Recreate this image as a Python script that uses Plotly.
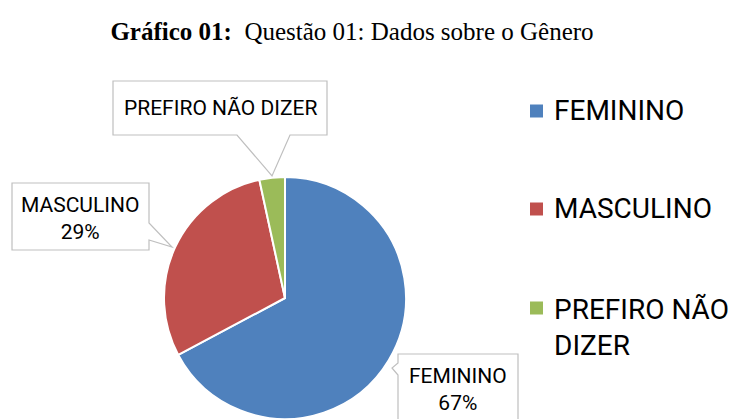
import plotly.graph_objects as go

# Dados do gráfico
labels = ['FEMININO', 'MASCULINO', 'PREFIRO NÃO DIZER']
legend_labels = ['FEMININO', 'MASCULINO', 'PREFIRO NÃO<br>DIZER']
values = [67.2, 29.4, 3.4]
colors = ['#4F81BD', '#C0504D', '#9BBB59']
show_pct = [True, True, False]

W, H = 731, 419


def px(x):
    return x / W


def py(y):
    return 1 - y / H


fig = go.Figure()

fig.add_trace(go.Pie(labels=labels, values=values,
                     sort=False, direction='clockwise', rotation=0,
                     marker=dict(colors=colors, line=dict(color='white', width=2)),
                     textinfo='none', hoverinfo='label+percent',
                     showlegend=False,
                     domain=dict(x=[px(164), px(406)], y=[0, 242 / H])))

total = sum(values)
pcts = [round(v / total * 100) for v in values]

# Caixas dos rótulos (retângulo + ponteiro), em pixels
callouts = [
    dict(box=(398, 354, 518, 425), side='left', base=(363, 375), tip=(392, 368), tc=(458, 389)),
    dict(box=(12, 183, 149, 250), side='right', base=(223, 240), tip=(172, 247), tc=(80, 218)),
    dict(box=(113, 81, 327, 135), side='bottom', base=(237, 290), tip=(272, 176), tc=(220, 108)),
]

shapes = []
annotations = []
for i, c in enumerate(callouts):
    x0, y0, x1, y1 = c['box']
    b0, b1 = c['base']
    tx, ty = c['tip']
    if c['side'] == 'left':
        pts = [(x0, y0), (x1, y0), (x1, y1), (x0, y1), (x0, b1), (tx, ty), (x0, b0)]
    elif c['side'] == 'right':
        pts = [(x0, y0), (x1, y0), (x1, b0), (tx, ty), (x1, b1), (x1, y1), (x0, y1)]
    else:
        pts = [(x0, y0), (x1, y0), (x1, y1), (b1, y1), (tx, ty), (b0, y1), (x0, y1)]
    path = 'M ' + ' L '.join(f'{px(a):.5f},{py(b):.5f}' for a, b in pts) + ' Z'
    shapes.append(dict(type='path', xref='paper', yref='paper', path=path,
                       fillcolor='white', line=dict(color='#BFBFBF', width=1.2), layer='above'))
    txt = labels[i] + (f'<br>{pcts[i]}%' if show_pct[i] else '')
    annotations.append(dict(x=px(c['tc'][0]), y=py(c['tc'][1]), xref='paper', yref='paper',
                            text=txt, showarrow=False, xanchor='center', yanchor='middle',
                            font=dict(family='Roboto', size=21, color='black')))

# Legenda manual
legend_y = [110, 208, 327]
marker_y = [111, 209, 308]
for i, lab in enumerate(legend_labels):
    cy = marker_y[i]
    shapes.append(dict(type='rect', xref='paper', yref='paper',
                       x0=px(530), x1=px(543), y0=py(cy - 6.5), y1=py(cy + 6.5),
                       fillcolor=colors[i], line=dict(width=0)))
    annotations.append(dict(x=px(552), y=py(legend_y[i]), xref='paper', yref='paper',
                            text=lab, showarrow=False, xanchor='left', yanchor='middle',
                            align='left',
                            font=dict(family='Roboto', size=28, color='black')))

fig.update_layout(
    title=dict(text='<b>Gráfico 01:</b>\u00a0 Questão 01: Dados sobre o Gênero',
               x=px(352), y=py(31), xanchor='center', yanchor='middle',
               font=dict(family='Liberation Serif', size=25, color='black')),
    width=W, height=H,
    margin=dict(l=0, r=0, t=0, b=0),
    paper_bgcolor='white', plot_bgcolor='white',
    shapes=shapes, annotations=annotations,
)

fig.write_html('out.html', config={'displayModeBar': False},
               post_script="document.body.style.margin='0';")
